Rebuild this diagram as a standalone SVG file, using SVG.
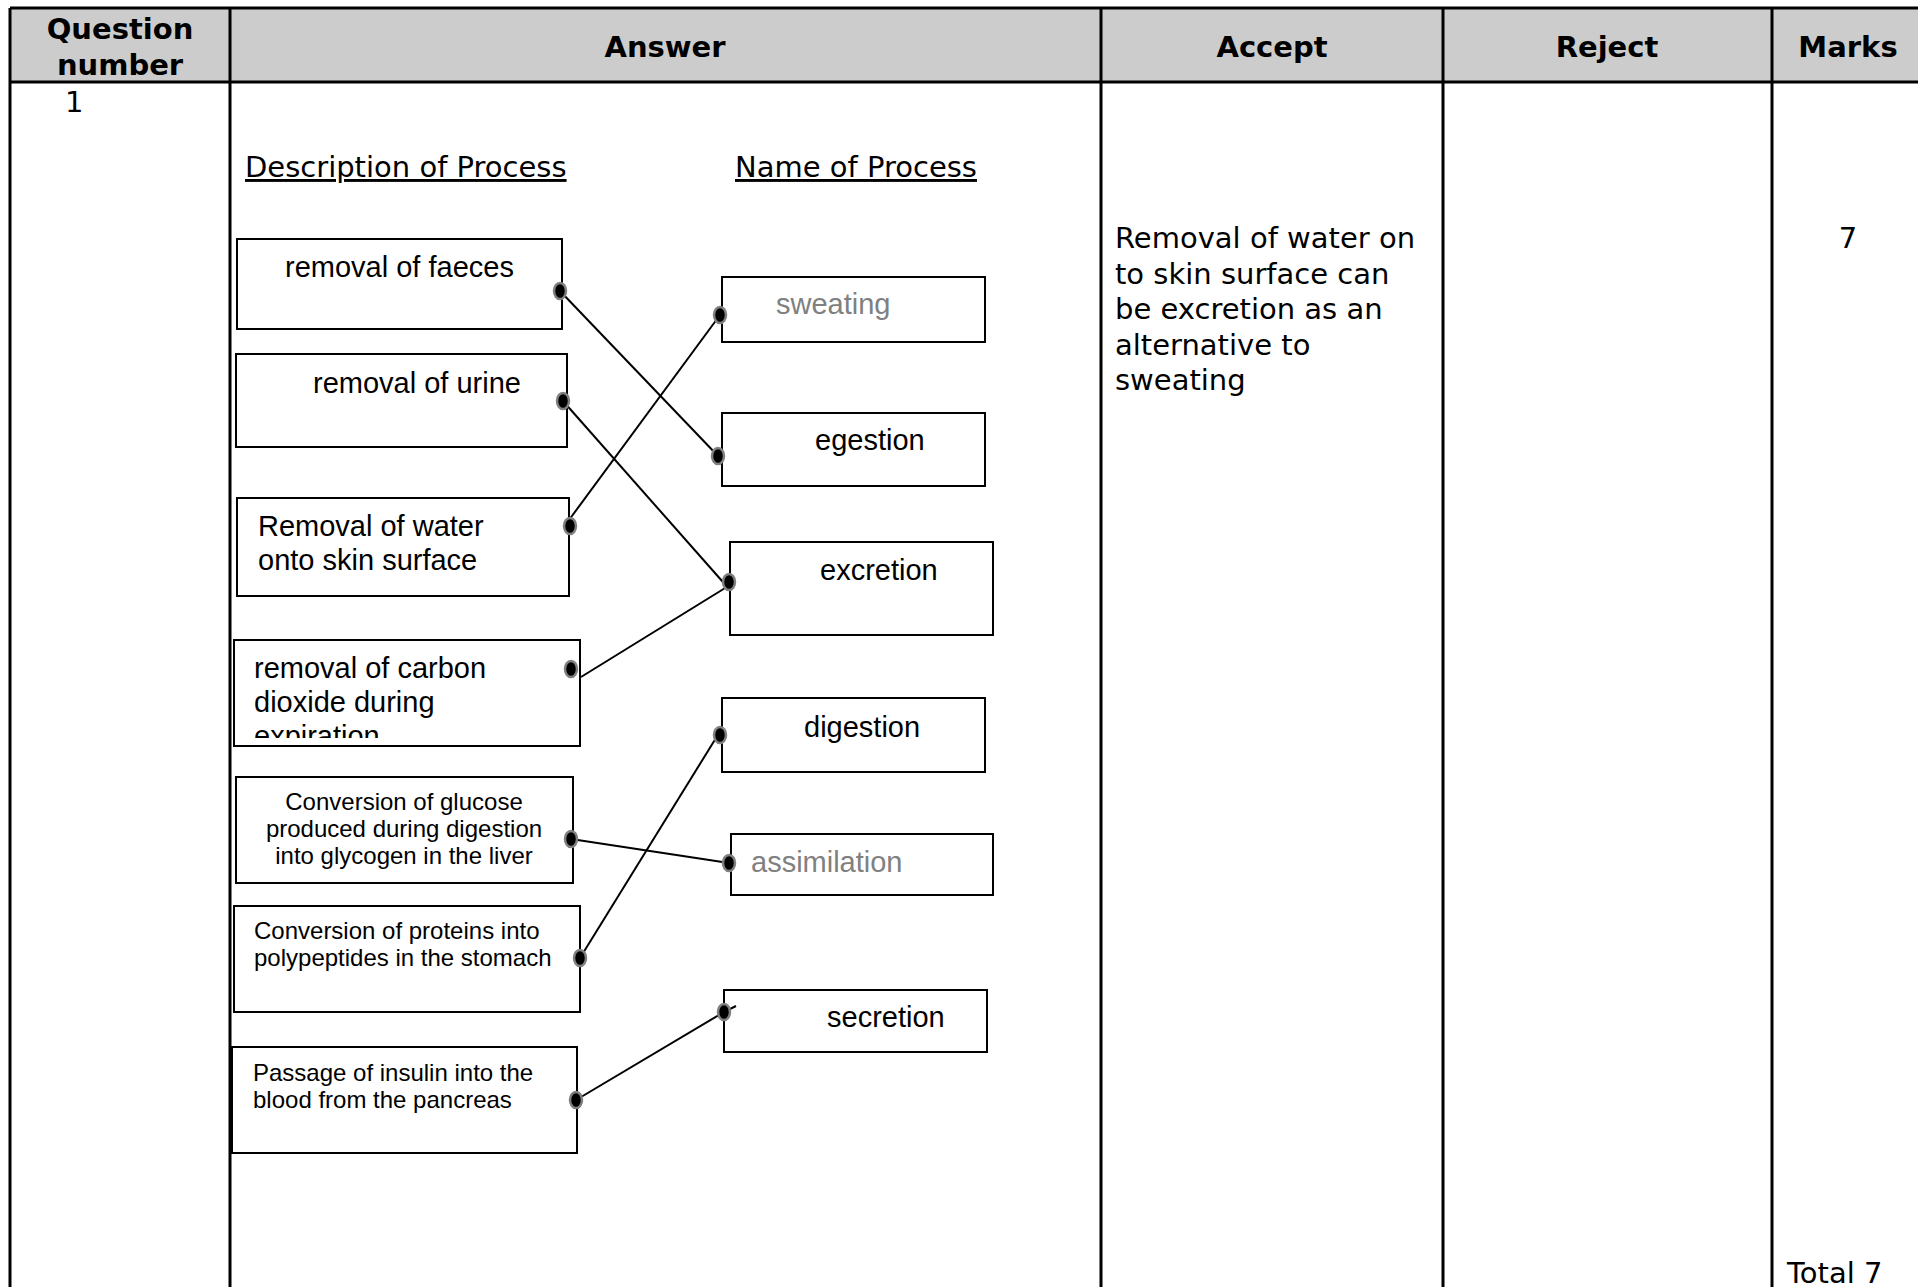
<svg xmlns="http://www.w3.org/2000/svg" width="1918" height="1287" viewBox="0 0 1918 1287">
<style>
.hdr{font-family:"DejaVu Sans",Verdana,sans-serif;font-weight:bold;font-size:29px;fill:#000;text-anchor:middle}
.body{font-family:"DejaVu Sans",Verdana,sans-serif;font-size:29px;fill:#000}
.grid{stroke:#000;stroke-width:3;fill:none}
.box{fill:#fff;stroke:#000;stroke-width:2}
.lbl{font-family:"Liberation Sans",Arial,sans-serif;font-size:29px;fill:#000}
.sm{font-family:"Liberation Sans",Arial,sans-serif;font-size:24px;fill:#000}
.gray{fill:#808080}
.dot{fill:#000;stroke:#808080;stroke-width:2.5}
.conn line{stroke:#000;stroke-width:2}
</style>
<defs>
<clipPath id="clipCarbon"><rect x="234" y="640" width="346" height="98"/></clipPath>
</defs>
<rect x="0" y="0" width="1918" height="1287" fill="#fff"/>
<g id="table">
<rect x="10" y="8" width="1908" height="74" fill="#cccccc"/>
<line class="grid" x1="10" y1="8" x2="1918" y2="8"/>
<line class="grid" x1="10" y1="82" x2="1918" y2="82"/>
<line class="grid" x1="10" y1="8" x2="10" y2="1287"/>
<line class="grid" x1="230" y1="8" x2="230" y2="1287"/>
<line class="grid" x1="1101" y1="8" x2="1101" y2="1287"/>
<line class="grid" x1="1443" y1="8" x2="1443" y2="1287"/>
<line class="grid" x1="1772" y1="8" x2="1772" y2="1287"/>
<text class="hdr" x="120" y="39">Question</text>
<text class="hdr" x="120" y="75">number</text>
<text class="hdr" x="665" y="57">Answer</text>
<text class="hdr" x="1272" y="57">Accept</text>
<text class="hdr" x="1607" y="57">Reject</text>
<text class="hdr" x="1848" y="57">Marks</text>
<text class="body" x="65" y="112">1</text>
<text class="body" x="245" y="177" text-decoration="underline">Description of Process</text>
<text class="body" x="735" y="177" text-decoration="underline">Name of Process</text>
<text class="body" x="1115" y="248">Removal of water on</text>
<text class="body" x="1115" y="283.5">to skin surface can</text>
<text class="body" x="1115" y="319">be excretion as an</text>
<text class="body" x="1115" y="354.5">alternative to</text>
<text class="body" x="1115" y="390">sweating</text>
<text class="body" x="1848" y="248" text-anchor="middle">7</text>
<text class="body" x="1787" y="1283">Total 7</text>
</g>
<g id="node-faeces"><rect class="box" x="237" y="239" width="325" height="90"/><text class="lbl" x="285" y="277">removal of faeces</text></g>
<g id="node-urine"><rect class="box" x="236" y="354" width="331" height="93"/><text class="lbl" x="313" y="393">removal of urine</text></g>
<g id="node-water"><rect class="box" x="237" y="498" width="332" height="98"/><text class="lbl" x="258" y="536">Removal of water</text><text class="lbl" x="258" y="570">onto skin surface</text></g>
<g id="node-carbon"><rect class="box" x="234" y="640" width="346" height="106"/><g clip-path="url(#clipCarbon)"><text class="lbl" x="254" y="678">removal of carbon</text><text class="lbl" x="254" y="712">dioxide during</text><text class="lbl" x="254" y="746">expiration</text></g></g>
<g id="node-glucose"><rect class="box" x="236" y="777" width="337" height="106"/><text class="sm" x="404" y="810" text-anchor="middle">Conversion of glucose</text><text class="sm" x="404" y="837" text-anchor="middle">produced during digestion</text><text class="sm" x="404" y="864" text-anchor="middle">into glycogen in the liver</text></g>
<g id="node-proteins"><rect class="box" x="234" y="906" width="346" height="106"/><text class="sm" x="254" y="939">Conversion of proteins into</text><text class="sm" x="254" y="966">polypeptides in the stomach</text></g>
<g id="node-insulin"><rect class="box" x="232" y="1047" width="345" height="106"/><text class="sm" x="253" y="1081">Passage of insulin into the</text><text class="sm" x="253" y="1108">blood from the pancreas</text></g>
<g id="node-sweating"><rect class="box" x="722" y="277" width="263" height="65"/><text class="lbl gray" x="776" y="314">sweating</text></g>
<g id="node-egestion"><rect class="box" x="722" y="413" width="263" height="73"/><text class="lbl" x="815" y="450">egestion</text></g>
<g id="node-excretion"><rect class="box" x="730" y="542" width="263" height="93"/><text class="lbl" x="820" y="580">excretion</text></g>
<g id="node-digestion"><rect class="box" x="722" y="698" width="263" height="74"/><text class="lbl" x="804" y="737">digestion</text></g>
<g id="node-assimilation"><rect class="box" x="731" y="834" width="262" height="61"/><text class="lbl gray" x="751" y="872">assimilation</text></g>
<g id="node-secretion"><rect class="box" x="724" y="990" width="263" height="62"/><text class="lbl" x="827" y="1027">secretion</text></g>
<g id="connectors" class="conn">
<line x1="560" y1="291" x2="718" y2="456"/>
<line x1="563" y1="401" x2="730" y2="590"/>
<line x1="569" y1="520" x2="720" y2="315"/>
<line x1="581" y1="677" x2="730" y2="585"/>
<line x1="571" y1="839" x2="729" y2="863"/>
<line x1="580" y1="958" x2="716" y2="738"/>
<line x1="576" y1="1100" x2="724" y2="1012"/>
<line x1="724" y1="1012" x2="736" y2="1006"/>
<ellipse class="dot" cx="560" cy="291" rx="6" ry="8"/>
<ellipse class="dot" cx="563" cy="401" rx="6" ry="8"/>
<ellipse class="dot" cx="570" cy="526" rx="6" ry="8"/>
<ellipse class="dot" cx="571" cy="669" rx="6" ry="8"/>
<ellipse class="dot" cx="571" cy="839" rx="6" ry="8"/>
<ellipse class="dot" cx="580" cy="958" rx="6" ry="8"/>
<ellipse class="dot" cx="576" cy="1100" rx="6" ry="8"/>
<ellipse class="dot" cx="720" cy="315" rx="6" ry="8"/>
<ellipse class="dot" cx="718" cy="456" rx="6" ry="8"/>
<ellipse class="dot" cx="729" cy="582" rx="6" ry="8"/>
<ellipse class="dot" cx="720" cy="735" rx="6" ry="8"/>
<ellipse class="dot" cx="729" cy="863" rx="6" ry="8"/>
<ellipse class="dot" cx="724" cy="1012" rx="6" ry="8"/>
</g>
</svg>
